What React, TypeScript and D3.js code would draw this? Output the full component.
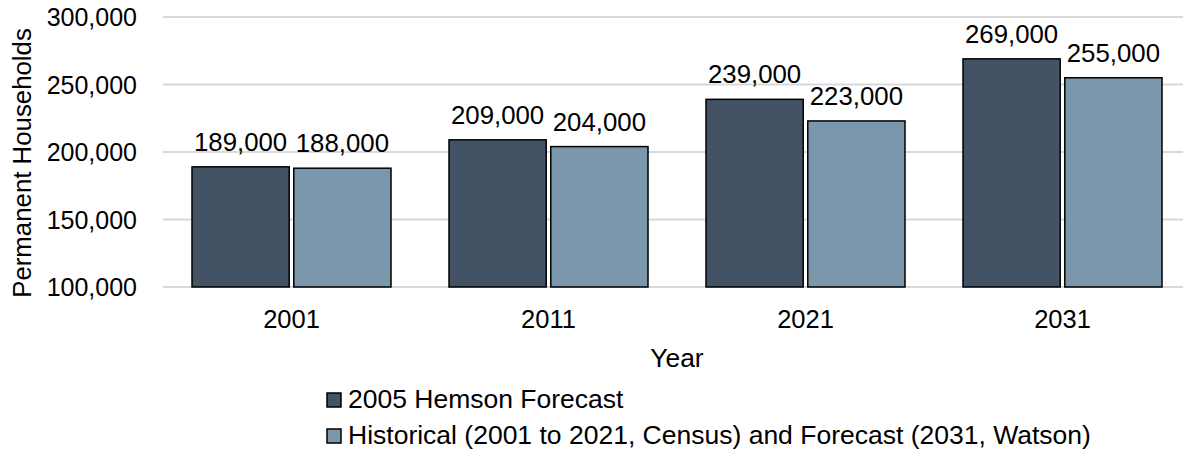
import React from "react";
import * as d3 from "d3";

const years = ["2001", "2011", "2021", "2031"];
const hemson = [189000, 209000, 239000, 269000];
const historical = [188000, 204000, 223000, 255000];
const yTicks = [100000, 150000, 200000, 250000, 300000];
const seriesNames = [
  "2005 Hemson Forecast",
  "Historical (2001 to 2021, Census) and Forecast (2031, Watson)",
];
const colors = ["#435365", "#7b97ab"];

const W = 1183;
const H = 452;
const FONT = "'Liberation Sans', Arial, sans-serif";

export default function App() {
  const x = d3
    .scaleBand()
    .domain(years)
    .range([163, 1191])
    .paddingInner(0)
    .paddingOuter(0);

  const inner = d3
    .scaleBand()
    .domain(["0", "1"])
    .range([29, x.bandwidth() - 29])
    .paddingInner(0.045);

  const y = d3.scaleLinear().domain([100000, 300000]).range([287, 17]);
  const fmt = d3.format(",");
  const series = [hemson, historical];

  return (
    <svg
      width={W}
      height={H}
      style={{ position: "absolute", left: 0, top: 0 }}
      fontFamily={FONT}
      fontSize={25}
    >
      <rect width={W} height={H} fill="#fff" />
      {yTicks.map((t) => (
        <g key={t}>
          <line
            x1={163}
            x2={1183}
            y1={y(t)}
            y2={y(t)}
            stroke="#d9d9d9"
            strokeWidth={2}
          />
          <text x={137} y={y(t) + 9} textAnchor="end" fill="#000">
            {fmt(t)}
          </text>
        </g>
      ))}
      <text
        transform={`translate(31,163) rotate(-90)`}
        textAnchor="middle"
        fill="#000"
        fontSize={25.8}
      >
        Permanent Households
      </text>

      {years.map((yr, i) => (
        <g key={yr} transform={`translate(${x(yr)},0)`}>
          {series.map((s, k) => {
            const bx = inner(String(k))!;
            const bw = inner.bandwidth();
            return (
              <g key={k}>
                <rect
                  x={bx}
                  y={y(s[i])}
                  width={bw}
                  height={y(100000) - y(s[i])}
                  fill={colors[k]}
                  stroke="#000"
                  strokeWidth={1.5}
                />
                <text
                  x={bx + bw / 2}
                  y={y(s[i]) - 16}
                  textAnchor="middle"
                  fill="#000"
                  fontSize={25.8}
                >
                  {fmt(s[i])}
                </text>
              </g>
            );
          })}
          <text
            x={x.bandwidth() / 2}
            y={328}
            textAnchor="middle"
            fill="#000"
            fontSize={25.5}
          >
            {yr}
          </text>
        </g>
      ))}

      <text x={677} y={367} textAnchor="middle" fill="#000" fontSize={26.4}>
        Year
      </text>

      {seriesNames.map((name, k) => (
        <g key={name} transform={`translate(327,${393 + k * 36})`}>
          <rect
            x={0}
            y={0}
            width={14}
            height={14}
            fill={colors[k]}
            stroke="#000"
            strokeWidth={1.5}
          />
          <text x={21} y={15} fill="#000" fontSize={26.5}>
            {name}
          </text>
        </g>
      ))}
    </svg>
  );
}
